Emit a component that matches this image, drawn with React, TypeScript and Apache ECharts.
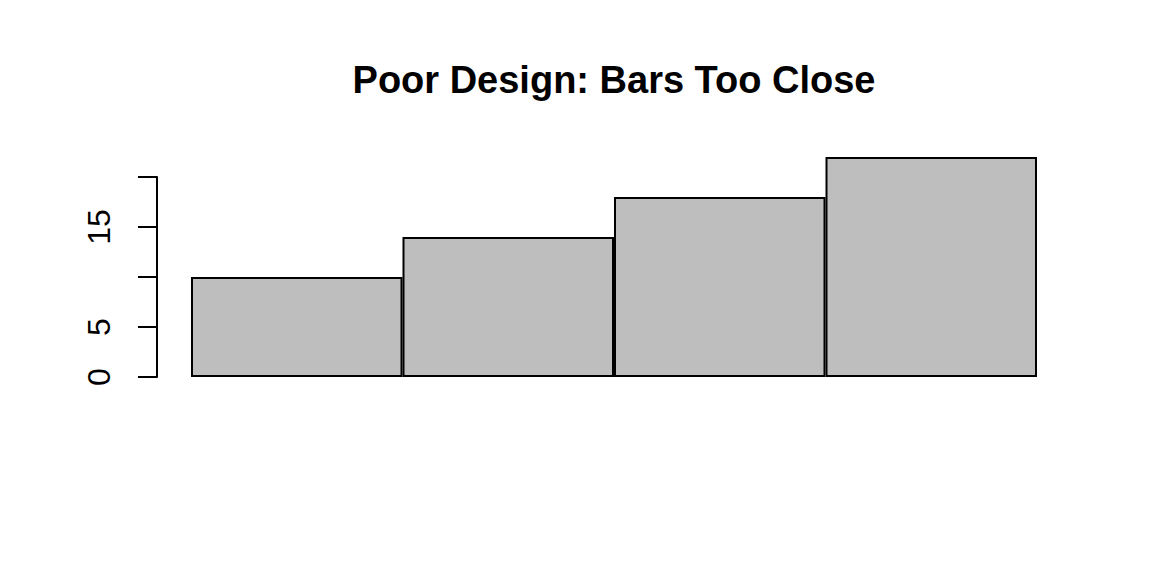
import React, { useEffect, useRef } from "react";
import * as echarts from "echarts";

const categories = ["A", "B", "C", "D"];
const values = [10, 14, 18, 22];
const yTicks = [0, 5, 10, 15, 20];
const yTickLabels = ["0", "5", "", "15", ""];
const titleText = "Poor Design: Bars Too Close";

export default function App() {
  const ref = useRef<HTMLDivElement>(null);
  useEffect(() => {
    if (!ref.current) return;
    const chart = echarts.init(ref.current, null, { renderer: "svg" });
    const font = "'Liberation Sans', Arial, sans-serif";
    chart.setOption({
      animation: false,
      backgroundColor: "#ffffff",
      title: {
        text: titleText,
        left: 609,
        textAlign: "center",
        top: 56,
        textStyle: { fontFamily: font, fontSize: 38, fontWeight: "bold", color: "#000" },
      },
      grid: [
        { left: 191, width: 846, top: 157, height: 220 },
        { left: 191, width: 846, top: 177, height: 200 },
      ],
      xAxis: [
        { type: "category", data: categories, gridIndex: 0, show: false },
        { type: "value", gridIndex: 1, show: false, min: 0, max: 1 },
      ],
      yAxis: [
        { type: "value", gridIndex: 0, min: 0, max: 22, show: false },
        {
          type: "value",
          gridIndex: 1,
          min: yTicks[0],
          max: yTicks[yTicks.length - 1],
          interval: 5,
          offset: 34,
          splitLine: { show: false },
          axisLine: { show: true, onZero: false, lineStyle: { color: "#000", width: 2 } },
          axisTick: { show: true, length: 19, lineStyle: { color: "#000", width: 2 } },
          axisLabel: {
            rotate: 90,
            margin: 42,
            fontFamily: font,
            fontSize: 32,
            color: "#000",
            formatter: (v: number) => {
              const i = yTicks.indexOf(v);
              return i >= 0 ? yTickLabels[i] : "";
            },
          },
        },
      ],
      series: [
        {
          type: "bar",
          xAxisIndex: 0,
          yAxisIndex: 0,
          data: values,
          barCategoryGap: "0%",
          itemStyle: { color: "#BEBEBE", borderColor: "#000", borderWidth: 2 },
        },
      ],
    });
    return () => chart.dispose();
  }, []);
  return (
    <div
      ref={ref}
      style={{ position: "fixed", left: 0, top: 0, width: 1152, height: 576 }}
    />
  );
}
